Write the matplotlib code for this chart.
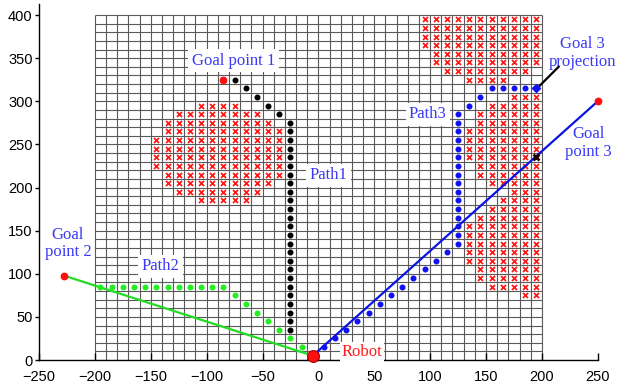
import numpy as np
import matplotlib
matplotlib.use("Agg")
import matplotlib.pyplot as plt

# Robot and goals
robot = (-5, 5)
goal1 = (-85, 325)
goal2 = (-228, 98)
goal3 = (250, 300)
goal3_projection = (195, 315)
edge_hit = (195, 235)

# Planned paths (cell centres)
path1_x = [-75, -65, -55, -45, -35] + [-25] * 25
path1_y = [325, 315, 305, 295, 285, 275, 265, 255, 245, 235, 225, 215, 205,
           195, 185, 175, 165, 155, 145, 135, 125, 115, 105, 95, 85, 75, 65,
           55, 45, 35]

path2_x = [-195, -185, -175, -165, -155, -145, -135, -125, -115, -105, -95,
           -85, -75, -65, -55, -45, -35, -25, -15]
path2_y = [85, 85, 85, 85, 85, 85, 85, 85, 85, 85, 85, 85,
           75, 65, 55, 45, 35, 25, 15]

path3_x = [5, 15, 25, 35, 45, 55, 65, 75, 85, 95, 105, 115] + [125] * 16 + \
          [135, 145, 155, 165, 175, 185]
path3_y = [15, 25, 35, 45, 55, 65, 75, 85, 95, 105, 115, 125,
           135, 145, 155, 165, 175, 185, 195, 205, 215, 225, 235, 245, 255,
           265, 275, 285, 295, 305, 315, 315, 315, 315]

# Occupied cells, one entry per row: (row y, first x, last x)
obstacle_left = [(295, -105, -75), (285, -125, -55), (275, -135, -45),
                 (265, -135, -35), (255, -145, -35), (245, -145, -35),
                 (235, -145, -35), (225, -145, -35), (215, -135, -35),
                 (205, -135, -45), (195, -125, -55), (185, -105, -65)]
obstacle_top = [(395, 95, 195), (385, 95, 195), (375, 95, 195),
                (365, 95, 195), (355, 105, 195), (345, 105, 195),
                (335, 115, 185), (325, 135, 165)]
obstacle_right = [(305, 175, 195), (295, 155, 195), (285, 145, 195),
                  (275, 145, 195), (265, 135, 195), (255, 135, 195),
                  (245, 135, 195), (235, 135, 185), (225, 145, 195),
                  (215, 145, 195), (205, 155, 195), (195, 175, 195),
                  (185, 165, 195), (175, 155, 195), (165, 145, 195),
                  (155, 135, 195), (145, 135, 195), (135, 135, 195),
                  (125, 135, 195), (115, 135, 195), (105, 145, 195),
                  (95, 145, 195), (85, 155, 195), (75, 185, 195)]

x_ticks = [-250, -200, -150, -100, -50, 0, 50, 100, 150, 200, 250]
y_ticks = [0, 50, 100, 150, 200, 250, 300, 350, 400]


def expand(rows):
    xs, ys = [], []
    for y, x0, x1 in rows:
        for x in range(x0, x1 + 1, 10):
            xs.append(x)
            ys.append(y)
    return xs, ys


fig = plt.figure(figsize=(6.25, 3.83), dpi=100)
ax = fig.add_axes([0.0624, 0.060, 0.894, 0.930])
ax.set_xlim(-250, 250)
ax.set_ylim(0, 413)

# occupancy grid
grid_c = "#5a5a5a"
ax.vlines(np.arange(-200, 201, 10), 0, 400, colors=grid_c, lw=0.8, zorder=1)
ax.hlines(np.arange(0, 401, 10), -200, 200, colors=grid_c, lw=0.8, zorder=1)

# obstacles
for rows in (obstacle_left, obstacle_top, obstacle_right):
    ox, oy = expand(rows)
    ax.plot(ox, oy, ls="none", marker="x", color="#ff1a1a", ms=3.6, mew=1.3,
            zorder=2)
ax.plot(*edge_hit, marker="x", color="#200000", ms=4.5, mew=2.0, zorder=6)

# straight-line headings
ax.plot([goal2[0], robot[0]], [goal2[1], robot[1]], color="#22dd22", lw=1.6,
        zorder=4)
ax.plot([robot[0], goal3[0]], [robot[1], goal3[1]], color="#0a14e6", lw=1.6,
        zorder=4)

# planned paths
ax.plot(path1_x, path1_y, ls="none", marker="o", color="black", ms=3.3,
        zorder=5)
ax.plot(path2_x, path2_y, ls="none", marker="o", color="#22ee22", ms=3.3,
        zorder=5)
ax.plot(path3_x, path3_y, ls="none", marker="o", color="#1010f0", ms=3.3,
        zorder=5)
ax.plot(*goal3_projection, marker="D", color="#1010f0", ms=4.5, zorder=6)
ax.plot([goal3_projection[0] + 3, 215], [goal3_projection[1] + 3, 340],
        color="black", lw=1.6, zorder=4)

# goals and robot
ax.plot(*goal1, marker="o", color="#ff1010", ms=4.6, zorder=6)
ax.plot(*goal2, marker="o", color="#ff1010", ms=4.6, zorder=6, clip_on=False)
ax.plot(*goal3, marker="o", color="#ff1010", ms=4.6, zorder=6, clip_on=False)
ax.plot(*robot, marker="o", color="#ff1010", mec="#aa0000", mew=0.8, ms=8.5,
        zorder=7, clip_on=False)

# annotations
lab_c = "#3a3af5"
font = dict(family="Liberation Serif", fontsize=12)
box = dict(facecolor="white", edgecolor="none", pad=2.5)
ax.text(-76, 347, "Goal point 1", color=lab_c, ha="center", va="center",
        bbox=box, zorder=8, **font)
ax.text(9, 214, "Path1", color=lab_c, ha="center", va="center",
        bbox=box, zorder=8, **font)
ax.text(-141, 109, "Path2", color=lab_c, ha="center", va="center",
        bbox=box, zorder=8, **font)
ax.text(98, 285, "Path3", color=lab_c, ha="center", va="center",
        bbox=box, zorder=8, **font)
ax.text(-224, 135, "Goal\npoint 2", color=lab_c, ha="center", va="center",
        linespacing=1.15, zorder=8, **font)
ax.text(236, 356, "Goal 3\nprojection", color=lab_c, ha="center",
        va="center", linespacing=1.15, zorder=8, clip_on=False, **font)
ax.text(242, 252, "Goal\npoint 3", color=lab_c, ha="center", va="center",
        linespacing=1.15, zorder=8, clip_on=False, **font)
ax.text(39, 9, "Robot", color="#ff1a1a", ha="center", va="center",
        bbox=dict(facecolor="white", edgecolor="none", pad=1.5), zorder=8,
        **font)

# axes styling
for s in ("top", "right"):
    ax.spines[s].set_visible(False)
for s in ("left", "bottom"):
    ax.spines[s].set_linewidth(1.0)
    ax.spines[s].set_color("black")
ax.set_xticks(x_ticks)
ax.set_yticks(y_ticks)
ax.tick_params(axis="x", direction="in", length=5, width=1.0, pad=7,
               labelsize=10.5)
ax.tick_params(axis="y", direction="out", length=3, width=1.0, pad=1.5,
               labelsize=10.5)
for lbl in ax.get_xticklabels() + ax.get_yticklabels():
    lbl.set_family("Liberation Sans")

fig.savefig("out.png", dpi=100)
